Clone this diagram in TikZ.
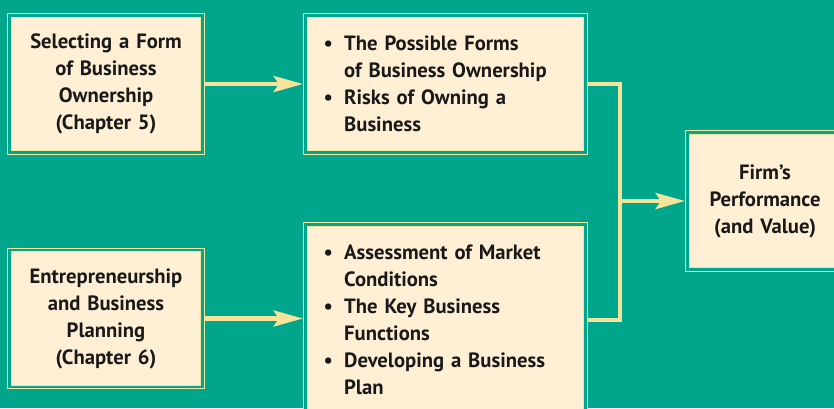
\documentclass[tikz,border=0pt]{standalone}
\usepackage{fontspec}
\setmainfont{PT Sans}
\usetikzlibrary{arrows.meta}
\definecolor{bgteal}{HTML}{00A68B}
\definecolor{boxcream}{HTML}{FFF0D5}
\definecolor{linecream}{HTML}{F5E39C}
\newcommand{\bitem}[1]{\hangindent=15.5pt\hangafter=1\noindent\makebox[15.5pt][l]{\textbullet}#1\par}
\tikzset{fbox/.style={
    rectangle,
    draw=linecream,
    line width=0.8pt,
    double=bgteal,
    double distance=2pt,
    fill=boxcream,
    text=black!90,
    font=\bfseries\fontsize{15.5}{20.25}\selectfont,
    outer sep=1.9pt,
    inner sep=0pt,
    minimum height=102.75pt
  },
  chapbox/.style={fbox,align=center,text width=140pt,minimum width=144.75pt},
  listbox/.style={fbox,align=left,inner xsep=13.5pt,text width=183pt,minimum width=210pt},
  goalbox/.style={fbox,align=center,text width=112pt,minimum width=116.25pt},
  link/.style={draw=linecream,line width=3.4pt},
  flow/.style={link,-{Stealth[length=22pt,width=12pt,inset=4pt]}},
}
\begin{document}
\begin{tikzpicture}[x=0.75pt,y=-0.75pt]
  \useasboundingbox (0,0) rectangle (834,408);
  \clip (0,0) rectangle (834,408);
  \fill[bgteal] (0,0) rectangle (834,408);
  \node [chapbox] (form) at (106,84) {Selecting a Form\\ of Business\\ Ownership\\ (Chapter 5)};
  \node [chapbox] (plan) at (106,318.5) {Entrepreneurship\\ and Business\\ Planning\\ (Chapter 6)};
  \node [listbox] (owner) at (445.5,84) {\bitem{The Possible Forms\newline of Business Ownership}\bitem{Risks of Owning a\newline Business}};
  \node [listbox,minimum height=143.25pt] (market) at (445.5,320) {\bitem{Assessment of Market\newline Conditions}\bitem{The Key Business\newline Functions}\bitem{Developing a Business\newline Plan}};
  \node [goalbox] (perf) at (765,201) {Firm’s\\ Performance\\ (and Value)};
  \coordinate (join) at (620,201);
  \draw[flow] (form) -- (owner);
  \draw[flow] (plan.east) -- (plan.east -| market.west);
  \draw[link] (owner.east) -| (join) |- (market.east);
  \draw[flow] (join) -- (perf);
\end{tikzpicture}
\end{document}
